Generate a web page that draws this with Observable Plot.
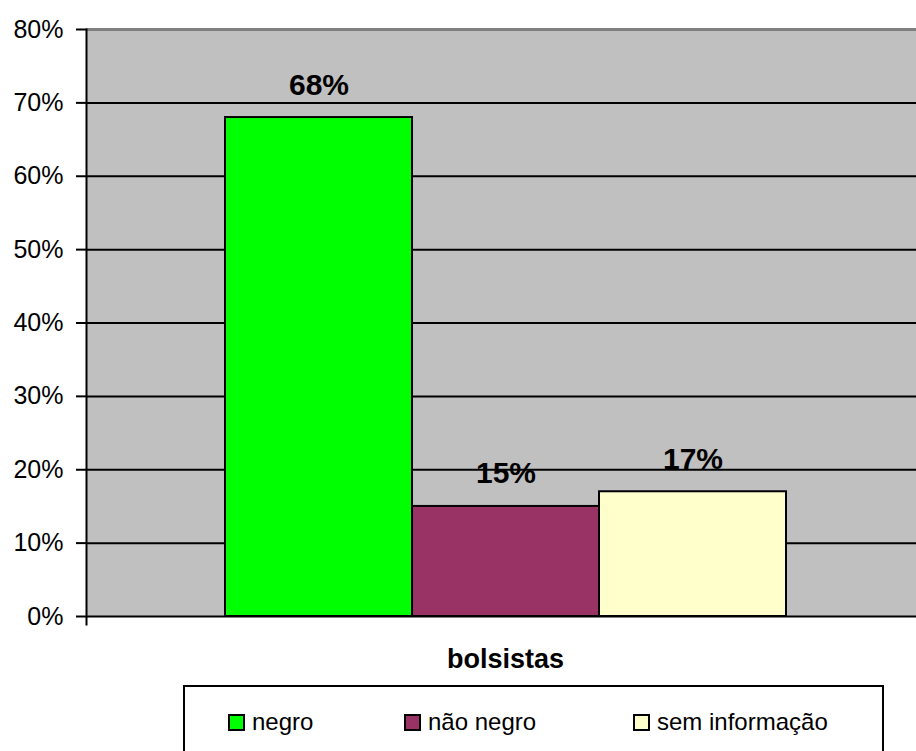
<!DOCTYPE html>
<html>
<head>
<meta charset="utf-8">
<script src="https://cdn.jsdelivr.net/npm/d3@7"></script>
<script src="https://cdn.jsdelivr.net/npm/@observablehq/plot@0.6"></script>
<style>
  html, body { margin: 0; padding: 0; background: white; }
  #wrap { position: relative; width: 916px; height: 751px; overflow: hidden; font-family: "Liberation Sans", Arial, sans-serif; }
  #legend { position: absolute; left: 183px; top: 685px; width: 701px; height: 90px; border: 2px solid black; box-sizing: border-box; background: white; }
  .item { position: absolute; top: 21px; display: flex; align-items: center; font-size: 24px; color: black; }
  .sw { width: 13px; height: 13px; border: 2px solid black; margin-right: 7px; }
</style>
</head>
<body>
<div id="wrap"></div>
<script>
const categories = ["negro", "não negro", "sem informação"];
const values = [0.68, 0.15, 0.17];
const colors = ["#00FF00", "#993366", "#FFFFCC"];
const yTicks = [0, 0.1, 0.2, 0.3, 0.4, 0.5, 0.6, 0.7, 0.8];
const xLabel = "bolsistas";

const data = categories.map((c, i) => ({cat: c, value: values[i]}));
const pct = d3.format(".0%");

const chart = Plot.plot({
  width: 916,
  height: 680,
  marginLeft: 86,
  marginRight: 0,
  marginTop: 29,
  marginBottom: 64,
  style: {background: "white", fontFamily: "'Liberation Sans', Arial, sans-serif", color: "black"},
  x: {domain: categories, range: [225, 786], padding: 0, axis: null},
  y: {domain: [0, 0.8], axis: null},
  color: {domain: categories, range: colors},
  marks: [
    Plot.frame({fill: "#C0C0C0", stroke: null}),
    Plot.ruleY(yTicks.slice(1, -1), {stroke: "black", strokeWidth: 2}),
    Plot.ruleY([0.8], {stroke: "#808080", strokeWidth: 3}),
    Plot.barY(data, {x: "cat", y: "value", fill: "cat", stroke: "black", strokeWidth: 2}),
    Plot.ruleY([0], {stroke: "black", strokeWidth: 2}),
    Plot.frame({anchor: "left", stroke: "black", strokeWidth: 2, insetBottom: -8}),
    Plot.axisY({ticks: yTicks, tickFormat: pct, tickSize: 10, tickPadding: 13, fontSize: 25, strokeWidth: 2, label: null}),
    Plot.text(data, {x: "cat", y: "value", text: d => pct(d.value), lineAnchor: "bottom", dy: -23, fontSize: 30, fontWeight: "bold"}),
    Plot.text([xLabel], {frameAnchor: "bottom", dx: 4, dy: 51, lineAnchor: "bottom", fontSize: 27, fontWeight: "bold"})
  ]
});

const wrap = document.getElementById("wrap");
wrap.appendChild(chart);

const legend = document.createElement("div");
legend.id = "legend";
const lefts = [43, 219, 448];
categories.forEach((c, i) => {
  const it = document.createElement("div");
  it.className = "item";
  it.style.left = lefts[i] + "px";
  const sw = document.createElement("span");
  sw.className = "sw";
  sw.style.background = colors[i];
  const t = document.createElement("span");
  t.textContent = c;
  it.appendChild(sw);
  it.appendChild(t);
  legend.appendChild(it);
});
wrap.appendChild(legend);
</script>
</body>
</html>
